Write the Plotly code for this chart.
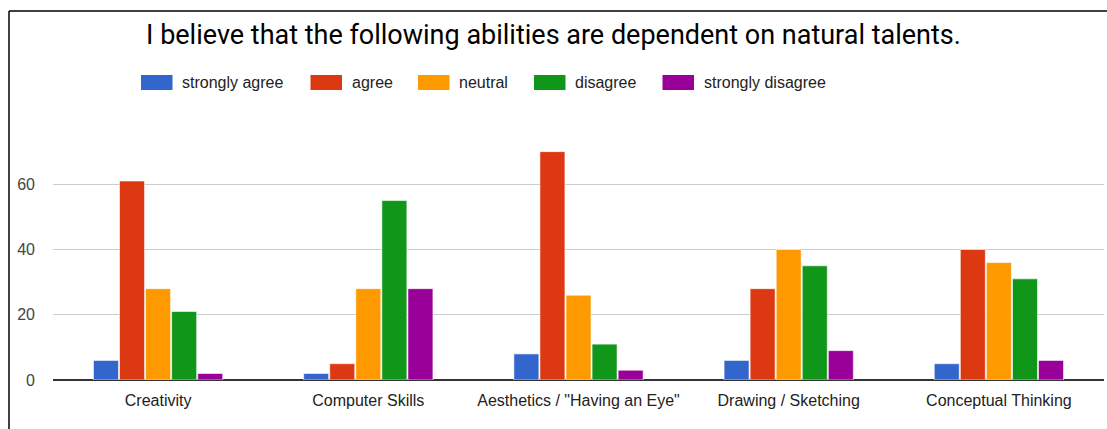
import plotly.graph_objects as go

categories = ["Creativity", "Computer Skills", "Aesthetics / \"Having an Eye\"",
              "Drawing / Sketching", "Conceptual Thinking"]
series_names = ["strongly agree", "agree", "neutral", "disagree", "strongly disagree"]
strongly_agree = [6, 2, 8, 6, 5]
agree = [61, 5, 70, 28, 40]
neutral = [28, 28, 26, 40, 36]
disagree = [21, 55, 11, 35, 31]
strongly_disagree = [2, 28, 3, 9, 6]
colors = ["#3366cc", "#dc3912", "#ff9900", "#109618", "#990099"]
y_ticks = [0, 20, 40, 60]

# layout constants (pixels)
W, H = 1107, 429
ML, MR, MT, MB = 53, 3, 119, 49
PW, PH = W - ML - MR, H - MT - MB
legend_swatch_left = [141, 310.5, 418, 534, 662.5]
legend_y = 82.5

def px_x(x):
    return (x - ML) / PW

def px_y(y):
    return (H - MB - y) / PH

fig = go.Figure()
for name, vals, col in zip(series_names,
                           [strongly_agree, agree, neutral, disagree, strongly_disagree],
                           colors):
    fig.add_trace(go.Bar(x=categories, y=vals, name=name, showlegend=False,
                         marker=dict(color=col, line=dict(color="rgba(255,255,255,0.6)", width=1))))

shapes = [
    dict(type="line", xref="paper", yref="paper", x0=px_x(9), x1=px_x(9),
         y0=px_y(11), y1=px_y(H + 2), line=dict(color="black", width=1.5)),
    dict(type="line", xref="paper", yref="paper", x0=px_x(9), x1=px_x(W + 2),
         y0=px_y(11), y1=px_y(11), line=dict(color="black", width=1.5)),
]
annotations = []
for name, col, lx in zip(series_names, colors, legend_swatch_left):
    shapes.append(dict(type="rect", xref="paper", yref="paper",
                       x0=px_x(lx), x1=px_x(lx + 31.5),
                       y0=px_y(legend_y + 7.5), y1=px_y(legend_y - 7.5),
                       fillcolor=col, line=dict(width=0)))
    annotations.append(dict(text=name, xref="paper", yref="paper",
                            x=px_x(lx + 39), y=px_y(legend_y),
                            xanchor="left", yanchor="middle", showarrow=False,
                            font=dict(family="Liberation Sans, Arial", size=16, color="#222222")))

fig.update_layout(
    width=W, height=H,
    margin=dict(l=ML, r=MR, t=MT, b=MB),
    paper_bgcolor="white", plot_bgcolor="white",
    barmode="group", bargap=0.38, bargroupgap=0.04,
    showlegend=False,
    title=dict(text="I believe that the following abilities are dependent on natural talents.",
               x=0.5, xref="container", xanchor="center",
               y=1 - 35 / H, yref="container", yanchor="middle",
               font=dict(family="Roboto", size=27, color="#000000")),
    xaxis=dict(showgrid=False, showline=False, ticks="", ticklabelstandoff=9,
               tickfont=dict(family="Liberation Sans, Arial", size=16, color="#222222")),
    yaxis=dict(range=[0, 80], tickvals=y_ticks, showgrid=True, gridcolor="#cccccc", gridwidth=1,
               zeroline=True, zerolinecolor="#333333", zerolinewidth=1.5,
               ticklabelstandoff=17,
               tickfont=dict(family="Liberation Sans, Arial", size=16, color="#444444")),
    shapes=shapes,
    annotations=annotations,
)

fig.write_html("out.html")
